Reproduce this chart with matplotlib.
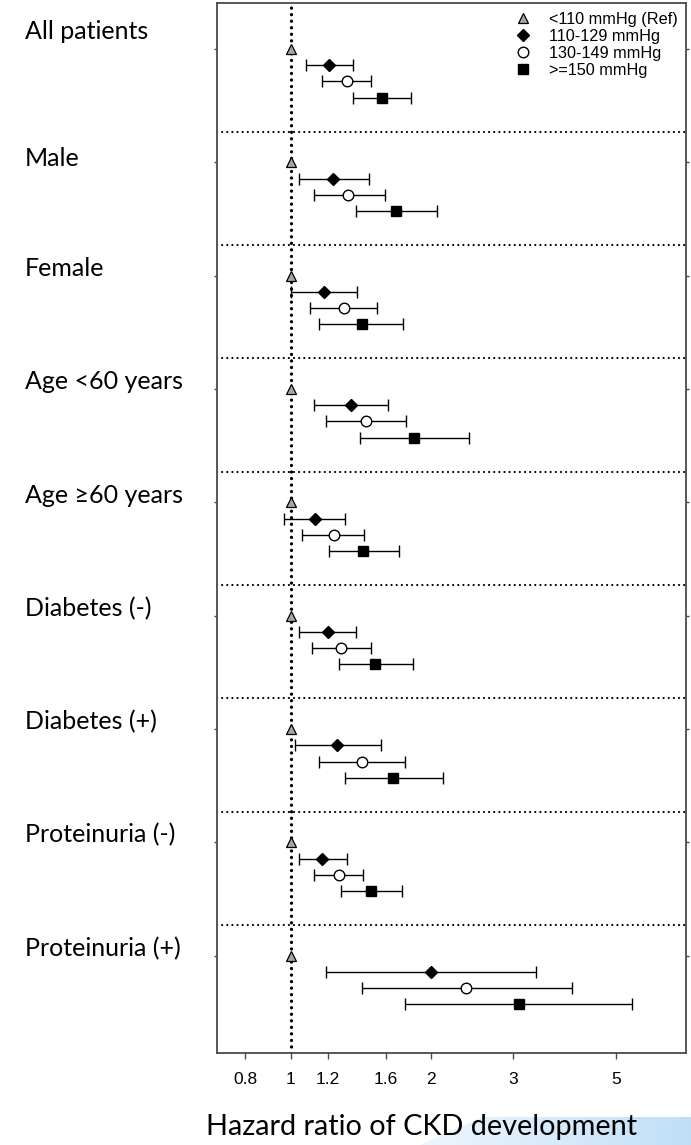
import numpy as np
import matplotlib
matplotlib.use("Agg")
import matplotlib.pyplot as plt
from matplotlib.patches import Polygon
from matplotlib.ticker import NullLocator, FixedLocator, FixedFormatter

# Subgroups (top to bottom)
groups = ["All patients", "Male", "Female", "Age <60 years", "Age \u226560 years",
          "Diabetes (-)", "Diabetes (+)", "Proteinuria (-)", "Proteinuria (+)"]

# Systolic BP categories
categories = ["<110 mmHg (Ref)", "110-129 mmHg", "130-149 mmHg", ">=150 mmHg"]

# Reference category hazard ratio
hr_ref = [1.0] * len(groups)

# 110-129 mmHg
hr_110_129 = [1.21, 1.23, 1.18, 1.35, 1.13, 1.20, 1.26, 1.17, 2.00]
lo_110_129 = [1.08, 1.04, 1.00, 1.12, 0.97, 1.04, 1.02, 1.04, 1.19]
hi_110_129 = [1.36, 1.47, 1.39, 1.62, 1.31, 1.38, 1.56, 1.32, 3.36]

# 130-149 mmHg
hr_130_149 = [1.32, 1.33, 1.30, 1.45, 1.24, 1.28, 1.42, 1.27, 2.38]
lo_130_149 = [1.17, 1.12, 1.10, 1.19, 1.06, 1.11, 1.15, 1.12, 1.42]
hi_130_149 = [1.49, 1.59, 1.53, 1.77, 1.44, 1.49, 1.76, 1.43, 4.01]

# >=150 mmHg
hr_150 = [1.57, 1.68, 1.42, 1.84, 1.43, 1.52, 1.66, 1.49, 3.09]
lo_150 = [1.36, 1.38, 1.15, 1.41, 1.21, 1.27, 1.31, 1.28, 1.76]
hi_150 = [1.81, 2.06, 1.74, 2.41, 1.71, 1.83, 2.12, 1.73, 5.40]

x_ticks = [0.8, 1, 1.2, 1.6, 2, 3, 5]
x_ticklabels = ["0.8", "1", "1.2", "1.6", "2", "3", "5"]
x_label = "Hazard ratio of CKD development"

# ---------------------------------------------------------------- layout
W, H = 691, 1145
fig = plt.figure(figsize=(W / 100, H / 100), dpi=100)

def fx(px):
    return px / W

def fy(py):
    return 1 - py / H

ax_l, ax_r, ax_t, ax_b = 217, 686, 3, 1053
ax = fig.add_axes([fx(ax_l), fy(ax_b), (ax_r - ax_l) / W, (ax_b - ax_t) / H])

GROUP_STEP = 7
n = len(groups)
base = np.arange(n) * GROUP_STEP

ax.set_xscale("log")
ax.set_xlim(0.695, 7.05)
ax.set_ylim(62.0, -2.84)

arial = "Liberation Sans"
label_font = "Lato"

# separators between subgroups
for b in base[:-1]:
    ax.axhline(b + 5.1, color="black", lw=1.6, linestyle=(0, (0.01, 2.3)),
               dash_capstyle="round", zorder=1)

# reference line at HR = 1
ax.axvline(1.0, color="black", lw=2.4, linestyle=(0, (0.01, 1.95)),
           dash_capstyle="round", zorder=2)

series = [
    (hr_110_129, lo_110_129, hi_110_129, 1, dict(marker="D", ms=6.6, mfc="black", mec="black")),
    (hr_130_149, lo_130_149, hi_130_149, 2, dict(marker="o", ms=7.6, mfc="white", mec="black", mew=1.0)),
    (hr_150, lo_150, hi_150, 3, dict(marker="s", ms=7.6, mfc="black", mec="black")),
]

handles = []
# reference category: marker only
h, = ax.plot(hr_ref, base, linestyle="none", marker="^", ms=7.5, mfc="#a6a6a6",
             mec="black", mew=0.9, zorder=5, label=categories[0])
handles.append(h)

for (hr, lo, hi, off, style), lab in zip(series, categories[1:]):
    hr = np.asarray(hr)
    err = np.vstack([hr - np.asarray(lo), np.asarray(hi) - hr])
    ax.errorbar(hr, base + off, xerr=err, fmt="none", ecolor="black",
                elinewidth=1.0, capsize=4.4, capthick=1.0, zorder=3)
    h, = ax.plot(hr, base + off, linestyle="none", zorder=5, label=lab, **style)
    handles.append(h)

# axes styling
for s in ax.spines.values():
    s.set_color("#4a4a4a")
    s.set_linewidth(1.3)

ax.xaxis.set_major_locator(FixedLocator(x_ticks))
ax.xaxis.set_major_formatter(FixedFormatter(x_ticklabels))
ax.xaxis.set_minor_locator(NullLocator())
ax.tick_params(axis="x", which="major", length=4.5, width=1.0, color="#4a4a4a",
               pad=9, labelsize=12.5)
for t in ax.get_xticklabels():
    t.set_fontfamily(arial)

ax.set_yticks(base)
ax.set_yticklabels([])
ax.yaxis.set_minor_locator(NullLocator())
ax.tick_params(axis="y", length=2.5, width=1.0, color="#4a4a4a",
               left=True, right=True)

leg = ax.legend(handles=handles, loc="upper left",
                bbox_to_anchor=(fx(515), fy(12)), bbox_transform=fig.transFigure,
                frameon=False, borderpad=0, borderaxespad=0, labelspacing=0.12,
                handlelength=1.0, handletextpad=1.1,
                prop={"family": arial, "size": 11.7})

# subgroup names
label_shift = [-0.6, 0.25, 0, 0, 0.05, 0.05, 0, 0, 0.05]
for g, b, d in zip(groups, base, label_shift):
    ax.text(fx(25), b + d, g, transform=matplotlib.transforms.blended_transform_factory(fig.transFigure, ax.transData),
            ha="left", va="baseline", fontsize=18, family=label_font, color="black")

# soft blue shape behind the axis title
bg = fig.add_axes([fx(420), 0, (W - 420) / W, 28 / H], zorder=-1)
bg.set_xlim(420, W)
bg.set_ylim(H, H - 28)
bg.axis("off")
grad = np.linspace(0, 1, 256).reshape(1, -1)
cmap = matplotlib.colors.LinearSegmentedColormap.from_list("bl", ["#eef6fd", "#c0dff7"])
im = bg.imshow(grad, extent=(420, W, H, H - 28), aspect="auto", cmap=cmap)
clip = Polygon([(420, H), (483, H - 28), (W, H - 28), (W, H)], closed=True,
               transform=bg.transData, facecolor="none", edgecolor="none")
bg.add_patch(clip)
im.set_clip_path(clip)
bg.set_xlim(420, W)
bg.set_ylim(H, H - 28)

fig.text(fx(422), fy(1135), x_label, ha="center", va="baseline",
         fontsize=20.8, family=label_font, color="black")

fig.savefig("out.png", dpi=100)
